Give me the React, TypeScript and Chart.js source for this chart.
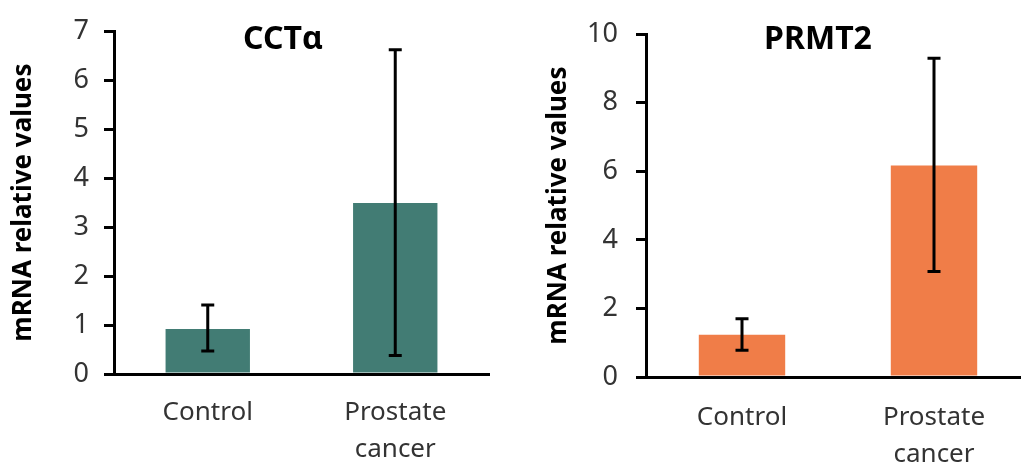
import React, { useEffect, useRef } from "react";
import { Chart, registerables } from "chart.js";

Chart.register(...registerables);

const categories: (string | string[])[] = ["Control", ["Prostate", "cancer"]];

const cctValues = [0.92, 3.49];
const cctErrLow = [0.47, 0.38];
const cctErrHigh = [1.41, 6.62];
const cctTicks = { max: 7, step: 1 };

const prmtValues = [1.23, 6.17];
const prmtErrLow = [0.78, 3.08];
const prmtErrHigh = [1.7, 9.3];
const prmtTicks = { max: 10, step: 2 };

const FONT = "'Noto Sans', 'Open Sans', sans-serif";

const errorBarPlugin = {
  id: "errorBars",
  afterDatasetsDraw(chart: any, _args: any, opts: any) {
    const meta = chart.getDatasetMeta(0);
    const y = chart.scales.y;
    const ctx = chart.ctx;
    ctx.save();
    ctx.strokeStyle = "#000";
    ctx.lineWidth = 3;
    ctx.lineCap = "butt";
    meta.data.forEach((bar: any, i: number) => {
      const x = bar.x;
      const yh = y.getPixelForValue(opts.high[i]);
      const yl = y.getPixelForValue(opts.low[i]);
      const w = 6.5;
      ctx.beginPath();
      ctx.moveTo(x, yh);
      ctx.lineTo(x, yl);
      ctx.moveTo(x - w, yh);
      ctx.lineTo(x + w, yh);
      ctx.moveTo(x - w, yl);
      ctx.lineTo(x + w, yl);
      ctx.stroke();
    });
    ctx.restore();
  },
};

const innerTitlePlugin = {
  id: "innerTitle",
  afterDraw(chart: any, _args: any, opts: any) {
    const ctx = chart.ctx;
    ctx.save();
    ctx.font = `bold ${opts.size}px ${FONT}`;
    ctx.fillStyle = "#000";
    ctx.textAlign = "center";
    ctx.textBaseline = "middle";
    ctx.fillText(opts.text, opts.x, opts.y);
    ctx.restore();
  },
};

type PanelProps = {
  values: number[];
  low: number[];
  high: number[];
  ticks: { max: number; step: number };
  color: string;
  title: string;
  left: number;
  width: number;
  pad: { left: number; right: number; top: number };
  axisWidth: number;
  axisHeight: number;
  tickPad: number;
  labelPad: number;
};

function Panel(p: PanelProps) {
  const ref = useRef<HTMLCanvasElement>(null);
  useEffect(() => {
    if (!ref.current) return;
    const chart = new Chart(ref.current, {
      type: "bar",
      data: {
        labels: categories as any,
        datasets: [
          {
            data: p.values,
            backgroundColor: p.color,
            borderWidth: 0,
            categoryPercentage: 1,
            barPercentage: 0.45,
          },
        ],
      },
      options: {
        animation: false,
        responsive: false,
        devicePixelRatio: 1,
        layout: { padding: { left: p.pad.left, right: p.pad.right, top: p.pad.top, bottom: 0 } },
        plugins: {
          legend: { display: false },
          tooltip: { enabled: false },
          title: { display: false },
          errorBars: { low: p.low, high: p.high },
          innerTitle: { text: p.title, x: 283, y: 40, size: 32 },
        } as any,
        scales: {
          x: {
            type: "category",
            offset: true,
            grid: { display: false, drawTicks: false },
            border: { display: true, color: "#000", width: 3 },
            ticks: {
              color: "#333333",
              font: { family: FONT, size: 26, lineHeight: 1.42 },
              padding: p.labelPad,
              maxRotation: 0,
              autoSkip: false,
            },
            afterFit: (s: any) => {
              s.height = p.axisHeight;
            },
          },
          y: {
            min: 0,
            max: p.ticks.max,
            ticks: {
              stepSize: p.ticks.step,
              color: "#333333",
              font: { family: FONT, size: 27 },
              padding: p.tickPad,
            },
            grid: {
              display: true,
              drawOnChartArea: false,
              drawTicks: true,
              tickLength: 10,
              color: "#000",
              lineWidth: 3,
            },
            border: { display: true, color: "#000", width: 3 },
            title: {
              display: true,
              text: "mRNA relative values",
              color: "#000",
              font: { family: FONT, size: 26, weight: "bold", lineHeight: 1.2 },
              padding: { top: 8, bottom: 0 },
            },
            afterFit: (s: any) => {
              s.width = p.axisWidth;
            },
          },
        },
      },
      plugins: [errorBarPlugin, innerTitlePlugin],
    });
    return () => chart.destroy();
  }, []);
  return (
    <canvas
      ref={ref}
      width={p.width}
      height={466}
      style={{ position: "absolute", left: p.left, top: 0, width: p.width, height: 466 }}
    />
  );
}

export default function App() {
  return (
    <div
      style={{
        position: "fixed",
        left: 0,
        top: 0,
        width: 1021,
        height: 466,
        overflow: "hidden",
        background: "#fff",
      }}
    >
      <Panel
        values={cctValues}
        low={cctErrLow}
        high={cctErrHigh}
        ticks={cctTicks}
        color="#427C74"
        title="CCTα"
        left={0}
        width={510}
        pad={{ left: 0, right: 21, top: 29 }}
        axisWidth={114}
        axisHeight={92}
        tickPad={15}
        labelPad={20}
      />
      <Panel
        values={prmtValues}
        low={prmtErrLow}
        high={prmtErrHigh}
        ticks={prmtTicks}
        color="#F07D48"
        title="PRMT2"
        left={535}
        width={500}
        pad={{ left: 0, right: 5, top: 23 }}
        axisWidth={111}
        axisHeight={89}
        tickPad={18}
        labelPad={22}
      />
    </div>
  );
}
